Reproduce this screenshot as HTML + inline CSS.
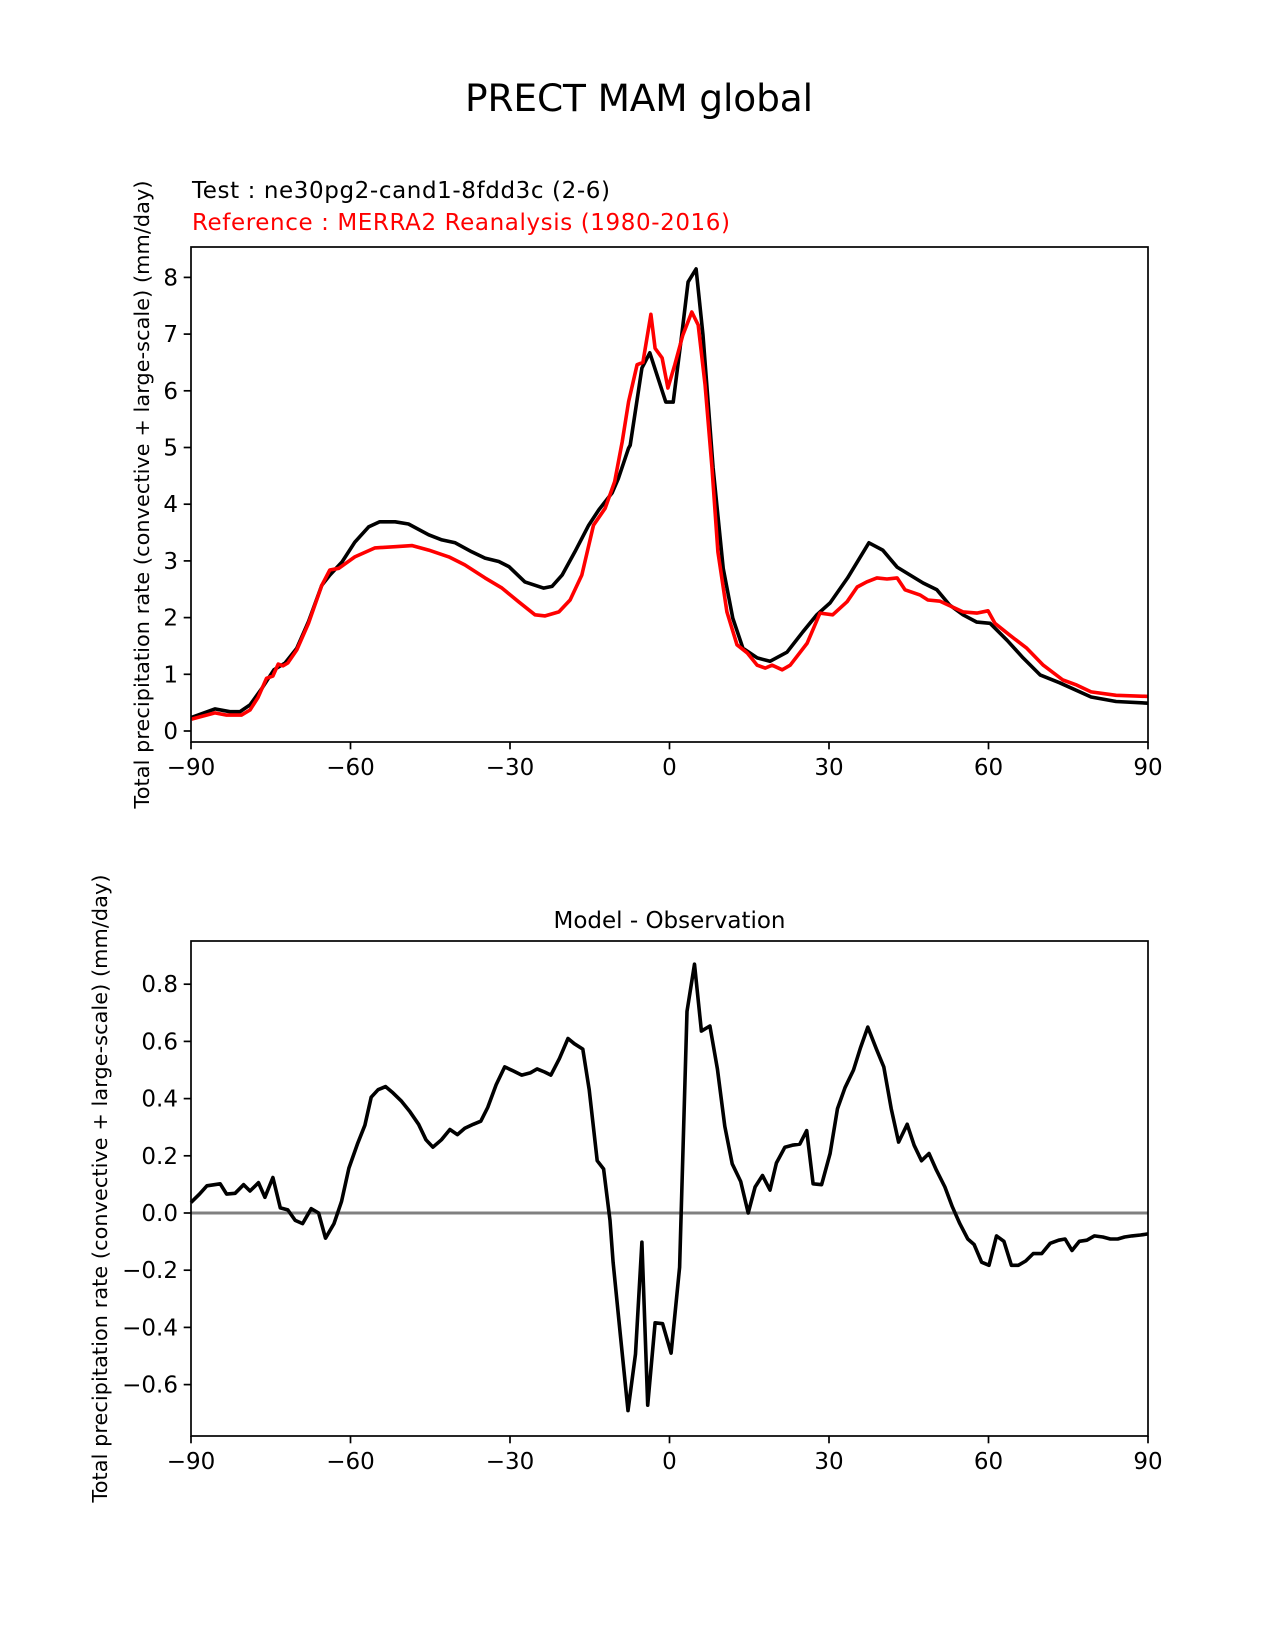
<!DOCTYPE html>
<html><head><meta charset="utf-8"><style>
body{margin:0;background:#fff;}
svg{display:block;font-family:"DejaVu Sans","Liberation Sans",sans-serif;}
</style></head><body>
<svg id="fig" width="1275" height="1650" viewBox="0 0 1275 1650" xmlns="http://www.w3.org/2000/svg">
<rect width="1275" height="1650" fill="#fff"/>
<text x="639" y="111" font-size="37.5" text-anchor="middle" textLength="348">PRECT MAM global</text>
<text x="192" y="198" font-size="23" textLength="418">Test : ne30pg2-cand1-8fdd3c (2-6)</text>
<text x="192" y="230" font-size="23" fill="#ff0000" textLength="538">Reference : MERRA2 Reanalysis (1980-2016)</text>
<text x="0" y="0" font-size="20.8" text-anchor="middle" dominant-baseline="central" textLength="628" transform="translate(142,494.5) rotate(-90)">Total precipitation rate (convective + large-scale) (mm/day)</text>
<text x="0" y="0" font-size="20.8" text-anchor="middle" dominant-baseline="central" textLength="628" transform="translate(100,1188.5) rotate(-90)">Total precipitation rate (convective + large-scale) (mm/day)</text>
<text x="669.5" y="928" font-size="23" text-anchor="middle">Model - Observation</text>
<g id="top"></g>
<g id="bot"></g>
</svg>
<script>
const xTicks = [-90, -60, -30, 0, 30, 60, 90];
const xTickLabels = ["\u221290", "\u221260", "\u221230", "0", "30", "60", "90"];
const topYTicks = [0, 1, 2, 3, 4, 5, 6, 7, 8];
const topYTickLabels = ["0", "1", "2", "3", "4", "5", "6", "7", "8"];
const botYTicks = [-0.6, -0.4, -0.2, 0.0, 0.2, 0.4, 0.6, 0.8];
const botYTickLabels = ["\u22120.6", "\u22120.4", "\u22120.2", "0.0", "0.2", "0.4", "0.6", "0.8"];

const testLat = [-89.9,-85.5,-82.7,-80.8,-78.9,-76.6,-74.4,-72.3,-70.1,-67.9,-65.4,-63.9,-61.6,-59.2,-56.6,-54.5,-51.6,-49.1,-45.3,-42.8,-40.3,-37.2,-34.7,-32.1,-30.2,-27.2,-23.7,-22.1,-20.2,-17.8,-15.2,-13.3,-10.8,-9.6,-7.7,-7.4,-5.2,-3.7,-0.7,0.7,2.3,3.5,5.0,6.3,8.2,10.1,11.9,13.8,16.5,18.9,22.1,25.1,27.7,30.2,33.5,37.5,40.1,42.8,47.7,50.3,52.7,55.2,57.8,60.3,63.5,66.5,69.7,73.4,79.3,84.0,90.0];
const testVal = [0.24,0.39,0.34,0.34,0.46,0.76,1.08,1.20,1.46,1.93,2.57,2.75,2.98,3.33,3.60,3.69,3.69,3.65,3.46,3.37,3.32,3.16,3.05,2.99,2.90,2.63,2.52,2.55,2.75,3.16,3.63,3.90,4.20,4.46,4.99,5.04,6.40,6.67,5.80,5.80,6.98,7.92,8.15,6.98,4.64,2.87,1.99,1.46,1.29,1.23,1.39,1.75,2.05,2.26,2.70,3.32,3.19,2.89,2.61,2.49,2.22,2.05,1.92,1.90,1.60,1.29,0.99,0.85,0.60,0.52,0.49];

const refLat = [-89.9,-85.5,-83.3,-80.5,-78.9,-77.4,-75.8,-74.6,-73.6,-72.7,-71.8,-70.1,-67.9,-65.4,-63.9,-62.2,-59.2,-55.4,-51.6,-48.4,-45.3,-41.5,-38.5,-34.7,-31.5,-28.4,-25.3,-23.4,-20.8,-18.7,-16.5,-14.3,-12.1,-10.3,-8.9,-7.7,-6.1,-5.0,-3.5,-2.7,-1.4,-0.3,1.0,2.5,4.2,5.4,6.7,8.0,9.1,10.8,12.7,14.6,16.5,18.0,19.3,21.2,22.7,25.9,28.3,30.7,33.4,35.3,37.1,39.0,40.9,42.8,44.3,47.1,48.6,50.9,55.2,57.8,59.9,61.2,64.0,67.2,70.3,74.0,76.6,79.3,84.0,90.0];
const refVal = [0.21,0.32,0.28,0.28,0.37,0.59,0.93,0.97,1.18,1.15,1.20,1.43,1.90,2.57,2.84,2.87,3.07,3.23,3.25,3.27,3.19,3.07,2.93,2.70,2.52,2.28,2.05,2.03,2.10,2.31,2.75,3.63,3.93,4.40,5.10,5.81,6.46,6.50,7.35,6.75,6.58,6.05,6.46,6.98,7.39,7.16,6.10,4.64,3.16,2.10,1.52,1.38,1.16,1.11,1.16,1.08,1.16,1.55,2.08,2.05,2.28,2.54,2.63,2.70,2.68,2.70,2.49,2.40,2.31,2.29,2.10,2.08,2.12,1.90,1.69,1.46,1.16,0.90,0.81,0.69,0.63,0.61];

const diffLat = [-90,-88.4,-87.0,-85.6,-84.5,-83.3,-81.7,-80.1,-78.9,-77.3,-76.1,-74.6,-73.2,-71.8,-70.4,-69.0,-67.4,-66.0,-64.7,-63.1,-61.7,-60.3,-58.7,-57.3,-56.1,-54.8,-53.4,-52.0,-50.4,-48.8,-47.2,-45.8,-44.5,-42.9,-41.3,-39.9,-38.5,-36.9,-35.5,-34.2,-32.6,-31.0,-29.4,-27.8,-26.2,-24.9,-23.5,-22.3,-20.7,-19.1,-17.9,-16.3,-15.1,-13.6,-12.4,-11.2,-10.6,-9.2,-7.8,-6.4,-5.2,-4.1,-2.7,-1.3,0.3,1.9,3.3,4.7,6.0,7.6,9.0,10.4,11.8,13.4,14.8,16.1,17.5,18.9,20.1,21.7,23.1,24.5,25.8,27.0,28.6,30.2,31.6,33.0,34.6,35.9,37.3,38.9,40.3,41.7,43.1,44.7,46.0,47.4,48.8,50.2,51.8,53.2,54.6,56.1,57.3,58.7,60.1,61.5,62.9,64.3,65.6,67.0,68.4,70.0,71.6,73.2,74.4,75.7,77.1,78.5,79.9,81.5,82.9,84.3,85.6,87.0,88.6,90.0];
const diffVal = [0.037,0.066,0.095,0.099,0.102,0.066,0.069,0.099,0.077,0.106,0.055,0.124,0.018,0.011,-0.026,-0.037,0.015,0.0,-0.088,-0.037,0.040,0.157,0.241,0.307,0.405,0.431,0.442,0.420,0.391,0.354,0.310,0.256,0.230,0.256,0.292,0.274,0.296,0.310,0.321,0.369,0.449,0.511,0.497,0.482,0.490,0.504,0.493,0.482,0.540,0.610,0.592,0.573,0.431,0.183,0.154,-0.026,-0.172,-0.435,-0.691,-0.493,-0.102,-0.672,-0.384,-0.387,-0.490,-0.190,0.705,0.870,0.636,0.654,0.504,0.303,0.172,0.110,0.0,0.091,0.131,0.080,0.175,0.230,0.237,0.241,0.288,0.102,0.099,0.208,0.365,0.438,0.500,0.577,0.650,0.574,0.511,0.365,0.248,0.310,0.237,0.183,0.208,0.150,0.091,0.022,-0.037,-0.091,-0.110,-0.172,-0.183,-0.080,-0.099,-0.183,-0.183,-0.168,-0.142,-0.142,-0.106,-0.095,-0.091,-0.131,-0.099,-0.095,-0.080,-0.084,-0.091,-0.091,-0.084,-0.080,-0.077,-0.073];

const NS = "http://www.w3.org/2000/svg";
const L = 191, R = 1148;
const xs = v => L + (v + 90) / 180 * (R - L);
function mk(tag, parent, attrs) {
  const e = document.createElementNS(NS, tag);
  for (const k in attrs) e.setAttribute(k, attrs[k]);
  parent.appendChild(e);
  return e;
}
function pathD(lat, val, ys) {
  return lat.map((a, i) => (i ? "L" : "M") + xs(a).toFixed(1) + "," + ys(val[i]).toFixed(1)).join(" ");
}
function axes(g, top, bot, ys, yt, ytl, prefix) {
  xTicks.forEach((t, i) => {
    const tk = mk("line", g, {x1: xs(t), x2: xs(t), y1: bot, y2: bot + 7.3, stroke: "#000", "stroke-width": 1.7});
    
    
    const lb = mk("text", g, {x: xs(t), y: bot + 33, "font-size": 23, "text-anchor": "middle"});
    lb.textContent = xTickLabels[i];
    
    
  });
  yt.forEach((t, i) => {
    const y = ys(t);
    const tk = mk("line", g, {x1: L - 7.3, x2: L, y1: y, y2: y, stroke: "#000", "stroke-width": 1.7});
    
    
    const lb = mk("text", g, {x: L - 13, y: y + 8, "font-size": 23, "text-anchor": "end"});
    lb.textContent = ytl[i];
    
    
  });
}
// top plot
const gT = document.getElementById("top");
const tTop = 247, tBot = 742;
const ysT = v => 731 - v * 56.7;
const tr = mk("path", gT, {d: pathD(testLat, testVal, ysT), fill: "none", stroke: "#000", "stroke-width": 3.6, "stroke-linejoin": "round"});


const rr = mk("path", gT, {d: pathD(refLat, refVal, ysT), fill: "none", stroke: "#ff0000", "stroke-width": 3.6, "stroke-linejoin": "round"});


const fT = mk("rect", gT, {x: L, y: tTop, width: R - L, height: tBot - tTop, fill: "none", stroke: "#000", "stroke-width": 1.7});


axes(gT, tTop, tBot, ysT, topYTicks, topYTickLabels, "top");
// bottom plot
const gB = document.getElementById("bot");
const bTop = 941, bBot = 1436;
const ysB = v => 1213 - v * 286;
const zl = mk("line", gB, {x1: L, x2: R, y1: ysB(0), y2: ysB(0), stroke: "#808080", "stroke-width": 3});


const dr = mk("path", gB, {d: pathD(diffLat, diffVal, ysB), fill: "none", stroke: "#000", "stroke-width": 3.6, "stroke-linejoin": "round"});


const fB = mk("rect", gB, {x: L, y: bTop, width: R - L, height: bBot - bTop, fill: "none", stroke: "#000", "stroke-width": 1.7});


axes(gB, bTop, bBot, ysB, botYTicks, botYTickLabels, "bottom");
</script>
</body></html>
